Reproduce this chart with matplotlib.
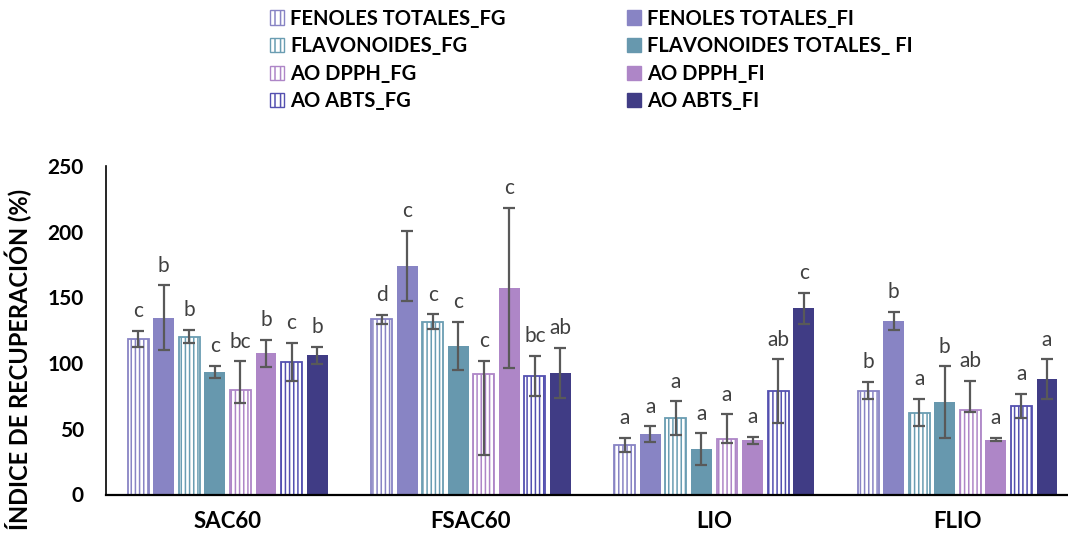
import numpy as np
import matplotlib.pyplot as plt
from matplotlib.patches import Patch

plt.rcParams["font.family"] = ["Lato", "DejaVu Sans"]
plt.rcParams["hatch.linewidth"] = 1.1

groups = ["SAC60", "FSAC60", "LIO", "FLIO"]

# recovery index (%) per group, with error bars and significance letters
fenoles_fg = [118.3, 133.3, 37.9, 79.0]
fenoles_fg_err = [6.2, 3.5, 5.4, 6.7]
fenoles_fg_sig = ["c", "d", "a", "b"]

fenoles_fi = [134.6, 173.9, 45.8, 132.0]
fenoles_fi_err = [24.6, 26.6, 6.0, 6.9]
fenoles_fi_sig = ["b", "c", "a", "b"]

flav_fg = [120.1, 131.3, 58.2, 62.3]
flav_fg_err = [5.0, 5.7, 12.7, 10.4]
flav_fg_sig = ["b", "c", "a", "a"]

flav_fi = [93.0, 113.0, 34.4, 70.4]
flav_fi_err = [4.7, 18.4, 12.2, 27.2]
flav_fi_sig = ["c", "c", "a", "b"]

dpph_fg = [79.8, 91.9, 42.2, 64.5]
dpph_fg_err_low = [10.4, 61.6, 3.0, 1.7]
dpph_fg_err_high = [21.6, 9.9, 18.8, 22.1]
dpph_fg_sig = ["bc", "c", "a", "ab"]

dpph_fi = [107.4, 157.4, 41.2, 41.7]
dpph_fi_err = [10.4, 61.0, 2.8, 1.3]
dpph_fi_sig = ["b", "c", "a", "a"]

abts_fg = [100.8, 90.2, 78.5, 67.6]
abts_fg_err = [14.8, 15.2, 24.3, 9.2]
abts_fg_sig = ["c", "bc", "ab", "a"]

abts_fi = [105.9, 92.7, 141.7, 87.9]
abts_fi_err = [6.6, 19.0, 12.0, 15.0]
abts_fi_sig = ["b", "ab", "c", "a"]

series = [
    ("FENOLES TOTALES_FG", fenoles_fg, fenoles_fg_err, fenoles_fg_err, fenoles_fg_sig, "#8884C4", True),
    ("FENOLES TOTALES_FI", fenoles_fi, fenoles_fi_err, fenoles_fi_err, fenoles_fi_sig, "#8884C4", False),
    ("FLAVONOIDES_FG", flav_fg, flav_fg_err, flav_fg_err, flav_fg_sig, "#6A9DB2", True),
    ("FLAVONOIDES TOTALES_ FI", flav_fi, flav_fi_err, flav_fi_err, flav_fi_sig, "#6798AE", False),
    ("AO DPPH_FG", dpph_fg, dpph_fg_err_low, dpph_fg_err_high, dpph_fg_sig, "#AE86C7", True),
    ("AO DPPH_FI", dpph_fi, dpph_fi_err, dpph_fi_err, dpph_fi_sig, "#AE86C7", False),
    ("AO ABTS_FG", abts_fg, abts_fg_err, abts_fg_err, abts_fg_sig, "#5450B0", True),
    ("AO ABTS_FI", abts_fi, abts_fi_err, abts_fi_err, abts_fi_sig, "#403C85", False),
]

fig = plt.figure(figsize=(10.68, 5.33), dpi=100)
ax = fig.add_axes([106 / 1068, 38.5 / 533, 962 / 1068, 328.5 / 533])

x = np.arange(len(groups))
pitch = 0.105
width = 0.086
handles = []
for i, (name, vals, lo, hi, sig, color, hatched) in enumerate(series):
    pos = x + (i - 3.5) * pitch
    if hatched:
        ax.bar(pos, vals, width, facecolor="white", edgecolor=color, linewidth=1.3,
               hatch="||||", zorder=2)
        handles.append(Patch(facecolor="white", edgecolor=color, linewidth=1.0, hatch="|||", label=name))
    else:
        ax.bar(pos, vals, width, color=color, zorder=2)
        handles.append(Patch(facecolor=color, edgecolor=color, label=name))
    ax.errorbar(pos, vals, yerr=[lo, hi], fmt="none", ecolor="#595959",
                elinewidth=1.6, capsize=4, capthick=1.6, zorder=3)
    for p, v, h, s in zip(pos, vals, hi, sig):
        ax.annotate(s, (p, v + h), xytext=(0, 7), textcoords="offset points",
                    ha="center", va="bottom", fontsize=15, color="#404040")

ax.set_xlim(-0.5, -0.5 + 962 / 243.3)
ax.set_ylim(0, 250)
ax.set_yticks(np.arange(0, 251, 50))
ax.set_xticks(x)
ax.set_xticklabels(groups, fontsize=16, fontweight="bold")
ax.tick_params(axis="y", length=0, pad=16, labelsize=15)
ax.tick_params(axis="x", length=0, pad=12)
for lab in ax.get_yticklabels():
    lab.set_fontweight("bold")
ax.spines["top"].set_visible(False)
ax.spines["right"].set_visible(False)
ax.spines["left"].set_linewidth(1.2)
ax.spines["bottom"].set_linewidth(1.6)
ax.set_ylabel("ÍNDICE DE RECUPERACIÓN (%)", fontsize=17, fontweight="bold")
ax.yaxis.set_label_coords(-0.077, 0.41)

order = [0, 2, 4, 6, 1, 3, 5, 7]
fig.legend([handles[k] for k in order], [handles[k].get_label() for k in order],
           loc="upper left", bbox_to_anchor=(252 / 1068, 1.018), ncol=2, frameon=False,
           prop={"weight": "bold", "size": 14.5}, handlelength=0.7, handleheight=0.7,
           handletextpad=0.3, columnspacing=6.0, labelspacing=0.38)

fig.savefig("out.png", dpi=100)
